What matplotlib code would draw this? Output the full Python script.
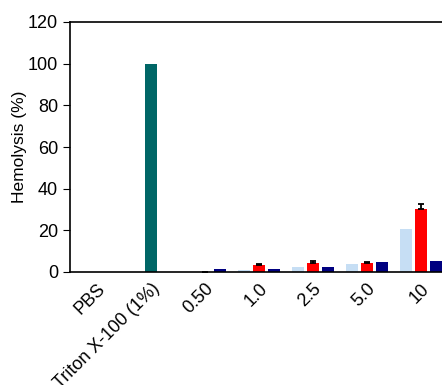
import matplotlib
matplotlib.use('Agg')
import matplotlib.pyplot as plt
import numpy as np

plt.rcParams['font.family'] = ['Liberation Sans', 'DejaVu Sans']

groups = ['PBS', 'Triton X-100 (1%)', '0.50', '1.0', '2.5', '5.0', '10']
control_vals = [0.0, 100.0]
conc_labels = ['0.50', '1.0', '2.5', '5.0', '10']
light_vals = [0.0, 1.2, 2.5, 3.7, 20.5]
red_vals = [0.0, 3.3, 4.3, 4.2, 30.1]
red_err = [0.0, 0.5, 0.8, 0.6, 2.5]
navy_vals = [1.5, 1.4, 2.5, 4.6, 5.4]

W, H = 442, 385
fig = plt.figure(figsize=(W / 100, H / 100), dpi=100)
# axes run past the right edge of the canvas
ax = fig.add_axes([70 / W, (H - 272) / H, 7.7 * 54 / W, 250 / H])

x = np.arange(len(groups))
bw = 0.222
off = 0.27

ax.bar(x[1], control_vals[1], bw, color='#006666')
xc = x[2:]
ax.bar(xc - off, light_vals, bw, color='#c6def4')
ax.bar(xc, red_vals, bw, color='#ff0000',
       yerr=[np.zeros(len(red_err)), red_err], capsize=2.5,
       error_kw=dict(ecolor='black', elinewidth=1.3, capthick=1.3))
ax.bar(xc + off, navy_vals, bw, color='#000080')

ax.set_xlim(-0.5, 7.2)
ax.set_ylim(0, 120)
ax.set_yticks(np.arange(0, 121, 20))
ax.set_xticks(x)
ax.set_xticklabels(groups, rotation=45, ha='right', rotation_mode='anchor')
ax.tick_params(axis='x', length=0, labelsize=13, pad=6)
ax.tick_params(axis='y', direction='out', length=5, labelsize=13)
ax.set_ylabel('Hemolysis (%)', fontsize=12.5, labelpad=1)
for s in ax.spines.values():
    s.set_linewidth(1.2)

fig.savefig('out.png', dpi=100)
